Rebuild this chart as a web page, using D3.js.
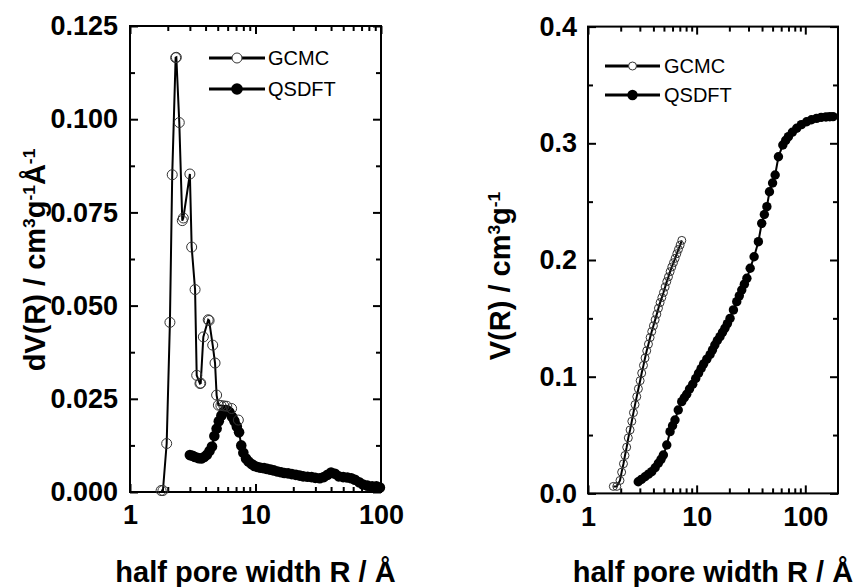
<!DOCTYPE html>
<html>
<head>
<meta charset="utf-8">
<script src="https://cdn.jsdelivr.net/npm/d3@7/dist/d3.min.js"></script>
<style>
  html, body { margin: 0; padding: 0; background: #fff; }
  svg { display: block; }
  text { font-family: Arial, "Liberation Sans", sans-serif; fill: #000; }
</style>
</head>
<body>
<svg id="chart" width="855" height="587"></svg>
<script>
// ---------- DATA ----------
// Left panel: pore size distribution dV(R)
const gcmcLeftR  = [1.77, 1.83, 1.96, 2.08, 2.17, 2.31, 2.34, 2.47, 2.61, 2.66, 3.00, 3.10, 3.30, 3.40, 3.61, 3.66, 3.84, 4.20, 4.27, 4.56, 4.76, 4.90, 5.06, 5.30, 5.60, 5.90, 6.45, 7.30];
const gcmcLeftDV = [0.0004, 0.0004, 0.0130, 0.0455, 0.0851, 0.1165, 0.1166, 0.0991, 0.0728, 0.0735, 0.0853, 0.0657, 0.0543, 0.0313, 0.0291, 0.0292, 0.0416, 0.0462, 0.0460, 0.0394, 0.0346, 0.0260, 0.0233, 0.0232, 0.0231, 0.0230, 0.0224, 0.0193];

const qsdftLeftR  = [3.00, 3.15, 3.30, 3.50, 3.70, 3.90, 4.10, 4.30, 4.50, 4.70, 4.90, 5.10, 5.35, 5.60, 5.90, 6.20, 6.50, 6.80, 7.10, 7.40, 7.70, 8.00, 8.40, 8.80, 9.30, 9.80, 10.4, 11.0, 11.7, 12.4, 13.2, 14.0, 15.0, 16.0, 17.0, 18.2, 19.5, 21.0, 22.5, 24.0, 26.0, 28.0, 30.0, 32.5, 35.0, 37.5, 40.0, 43.0, 46.0, 50.0, 54.0, 58.0, 62.0, 67.0, 72.0, 78.0, 85.0, 92.0, 98.0];
const qsdftLeftDV = [0.0099, 0.0097, 0.0094, 0.0091, 0.0090, 0.0094, 0.0100, 0.0110, 0.0122, 0.0150, 0.0170, 0.0190, 0.0205, 0.0216, 0.0220, 0.0214, 0.0202, 0.0190, 0.0176, 0.0160, 0.0125, 0.0105, 0.0090, 0.0082, 0.0075, 0.0070, 0.0067, 0.0065, 0.0064, 0.0062, 0.0060, 0.0058, 0.0055, 0.0053, 0.0051, 0.0050, 0.0048, 0.0046, 0.0044, 0.0042, 0.0041, 0.0040, 0.0038, 0.0037, 0.0040, 0.0046, 0.0052, 0.0049, 0.0042, 0.0040, 0.0039, 0.0037, 0.0033, 0.0026, 0.0020, 0.0017, 0.0015, 0.0015, 0.0012];

// Right panel: cumulative pore volume V(R)
const gcmcRightR = [1.71, 1.84, 1.97, 2.04, 2.12, 2.19, 2.27, 2.35, 2.44, 2.53, 2.62, 2.71, 2.81, 2.91, 3.02, 3.12, 3.24, 3.35, 3.47, 3.60, 3.73, 3.86, 4.00, 4.15, 4.30, 4.45, 4.61, 4.78, 4.95, 5.13, 5.31, 5.50, 5.70, 5.90, 6.12, 6.34, 6.57, 6.80, 7.05, 7.30];
const gcmcRightV = [0.0060, 0.0060, 0.0111, 0.0182, 0.0254, 0.0325, 0.0396, 0.0476, 0.0544, 0.0618, 0.0692, 0.0761, 0.0829, 0.0897, 0.0966, 0.1031, 0.1097, 0.1160, 0.1222, 0.1279, 0.1336, 0.1387, 0.1436, 0.1487, 0.1536, 0.1587, 0.1635, 0.1678, 0.1721, 0.1769, 0.1815, 0.1855, 0.1900, 0.1940, 0.1977, 0.2014, 0.2054, 0.2091, 0.2128, 0.2168];

const qsdftRightR = [2.90, 3.10, 3.35, 3.60, 3.86, 4.15, 4.44, 4.70, 4.94, 5.31, 5.69, 6.00, 6.32, 6.77, 7.29, 7.70, 8.10, 8.60, 9.20, 9.80, 10.4, 11.0, 11.6, 12.4, 13.3, 14.0, 14.7, 15.5, 16.4, 17.3, 18.2, 19.2, 20.3, 21.8, 23.4, 24.7, 26.0, 27.5, 29.0, 31.1, 33.8, 37.0, 39.7, 42.0, 44.3, 46.8, 50.0, 52.8, 56.6, 62.1, 66.0, 69.9, 76.0, 83.4, 92.0, 103, 114, 127, 140, 155, 168, 180];
const qsdftRightV = [0.0100, 0.0120, 0.0143, 0.0165, 0.0186, 0.0220, 0.0258, 0.0292, 0.0329, 0.0415, 0.0529, 0.0580, 0.0629, 0.0715, 0.0786, 0.0820, 0.0850, 0.0895, 0.0935, 0.0985, 0.1030, 0.1070, 0.1110, 0.1150, 0.1190, 0.1230, 0.1272, 0.1310, 0.1343, 0.1380, 0.1415, 0.1455, 0.1500, 0.1572, 0.1643, 0.1693, 0.1743, 0.1793, 0.1843, 0.1929, 0.2028, 0.2157, 0.2314, 0.2390, 0.2457, 0.2585, 0.2660, 0.2728, 0.2885, 0.2985, 0.3025, 0.3057, 0.3095, 0.3129, 0.3160, 0.3185, 0.3202, 0.3214, 0.3222, 0.3226, 0.3228, 0.3229];

// Tick values / labels
const xMajorTicks = [1, 10, 100];
const xMinorTicks = [2, 3, 4, 5, 6, 7, 8, 9, 20, 30, 40, 50, 60, 70, 80, 90];
const leftYMajor = [0, 0.025, 0.05, 0.075, 0.1, 0.125];
const leftYMinor = [0.0125, 0.0375, 0.0625, 0.0875, 0.1125];
const rightYMajor = [0, 0.1, 0.2, 0.3, 0.4];
const rightYMinor = [0.05, 0.15, 0.25, 0.35];
const seriesNames = ["GCMC", "QSDFT"];
const xTitle = "half pore width R / Å";

// ---------- DRAW ----------
const svg = d3.select("#chart");
const TICK_FS = 27, TITLE_FS = 29, LEG_FS = 20;

function panel(cfg) {
  const x = d3.scaleLog().domain(cfg.xDomain).range([cfg.x0, cfg.x1]);
  const y = d3.scaleLinear().domain(cfg.yDomain).range([cfg.y0, cfg.y1]);
  const g = svg.append("g");

  function styleAxis(sel, labels) {
    sel.select(".domain").remove();
    sel.selectAll(".tick line").attr("stroke", "#000").attr("stroke-width", 2);
    if (!labels) sel.selectAll(".tick text").remove();
    else sel.selectAll(".tick text")
      .attr("font-size", TICK_FS).attr("font-weight", "bold")
      .attr("font-family", "Arial, 'Liberation Sans', sans-serif").attr("fill", "#000");
  }
  const majX = xMajorTicks.filter(v => v >= cfg.xDomain[0] && v <= cfg.xDomain[1]);
  const minX = xMinorTicks.filter(v => v < cfg.xDomain[1]);
  // bottom
  g.append("g").attr("transform", `translate(0,${cfg.y0})`)
    .call(d3.axisBottom(x).tickValues(majX).tickFormat(d3.format("d")).tickSize(-8).tickPadding(13))
    .call(s => styleAxis(s, true));
  g.append("g").attr("transform", `translate(0,${cfg.y0})`)
    .call(d3.axisBottom(x).tickValues(minX).tickFormat("").tickSize(-5))
    .call(s => styleAxis(s, false));
  // top
  g.append("g").attr("transform", `translate(0,${cfg.y1})`)
    .call(d3.axisTop(x).tickValues(majX).tickSize(-8))
    .call(s => styleAxis(s, false));
  g.append("g").attr("transform", `translate(0,${cfg.y1})`)
    .call(d3.axisTop(x).tickValues(minX).tickSize(-5))
    .call(s => styleAxis(s, false));
  // left
  g.append("g").attr("transform", `translate(${cfg.x0},0)`)
    .call(d3.axisLeft(y).tickValues(cfg.yMajor).tickFormat(d3.format(cfg.yFmt)).tickSize(-8).tickPadding(cfg.yPad))
    .call(s => styleAxis(s, true));
  g.append("g").attr("transform", `translate(${cfg.x0},0)`)
    .call(d3.axisLeft(y).tickValues(cfg.yMinor).tickSize(-5))
    .call(s => styleAxis(s, false));
  // right
  g.append("g").attr("transform", `translate(${cfg.x1},0)`)
    .call(d3.axisRight(y).tickValues(cfg.yMajor).tickSize(-8))
    .call(s => styleAxis(s, false));
  g.append("g").attr("transform", `translate(${cfg.x1},0)`)
    .call(d3.axisRight(y).tickValues(cfg.yMinor).tickSize(-5))
    .call(s => styleAxis(s, false));

  // frame
  g.append("rect").attr("x", cfg.x0).attr("y", cfg.y1)
    .attr("width", cfg.x1 - cfg.x0).attr("height", cfg.y0 - cfg.y1)
    .attr("fill", "none").attr("stroke", "#000").attr("stroke-width", 2);

  const line = d3.line().x(d => x(d[0])).y(d => y(d[1]));
  const q = cfg.qR.map((r, i) => [r, cfg.qV[i]]);
  const gc = cfg.gR.map((r, i) => [r, cfg.gV[i]]);

  // QSDFT
  g.append("path").datum(q).attr("d", line).attr("fill", "none").attr("stroke", "#000").attr("stroke-width", 2);
  g.selectAll(".q").data(q).join("circle").attr("cx", d => x(d[0])).attr("cy", d => y(d[1]))
    .attr("r", cfg.qr).attr("fill", "#000");
  // GCMC
  g.append("path").datum(gc).attr("d", line).attr("fill", "none").attr("stroke", "#000").attr("stroke-width", 2);
  g.selectAll(".gc").data(gc).join("circle").attr("cx", d => x(d[0])).attr("cy", d => y(d[1]))
    .attr("r", cfg.gr).attr("fill", "none").attr("stroke", "#333").attr("stroke-width", 1);

  // legend
  const L = cfg.leg;
  seriesNames.forEach((name, i) => {
    const ly = L.y[i];
    g.append("line").attr("x1", L.x1).attr("x2", L.x2).attr("y1", ly).attr("y2", ly)
      .attr("stroke", "#000").attr("stroke-width", 3);
    const c = g.append("circle").attr("cx", (L.x1 + L.x2) / 2).attr("cy", ly);
    if (i === 0) c.attr("r", cfg.gr).attr("fill", "#fff").attr("stroke", "#333").attr("stroke-width", 1);
    else c.attr("r", cfg.qr + 0.5).attr("fill", "#000");
    g.append("text").attr("x", L.tx).attr("y", ly).attr("dy", "0.35em")
      .attr("font-size", LEG_FS).text(name);
  });

  // x title
  g.append("text").attr("x", (cfg.x0 + cfg.x1) / 2).attr("y", 582)
    .attr("text-anchor", "middle").attr("font-size", TITLE_FS).attr("font-weight", "bold").text(xTitle);

  // y title
  const yt = g.append("text").attr("transform", `translate(${cfg.ytx},${cfg.yty}) rotate(-90)`)
    .attr("text-anchor", "middle").attr("font-size", TITLE_FS).attr("font-weight", "bold");
  cfg.yTitle.forEach(p => {
    const t = yt.append("tspan").text(p.t);
    if (p.sup) t.attr("baseline-shift", "super").attr("font-size", TITLE_FS * 0.6);
  });
}

panel({
  xDomain: [1, 100], yDomain: [0, 0.125],
  x0: 130, x1: 381, y0: 492, y1: 26,
  yMajor: leftYMajor, yMinor: leftYMinor, yFmt: ".3f", yPad: 12,
  gR: gcmcLeftR, gV: gcmcLeftDV, qR: qsdftLeftR, qV: qsdftLeftDV,
  gr: 5, qr: 5.3,
  leg: { x1: 209, x2: 265, tx: 268, y: [58, 89] },
  ytx: 45, yty: 260,
  yTitle: [{t: "dV(R) / cm"}, {t: "3", sup: true}, {t: "g"}, {t: "-1", sup: true}, {t: "Å"}, {t: "-1", sup: true}]
});

panel({
  xDomain: [1, 200], yDomain: [0, 0.4],
  x0: 588, x1: 838, y0: 493.4, y1: 26.6,
  yMajor: rightYMajor, yMinor: rightYMinor, yFmt: ".1f", yPad: 11,
  gR: gcmcRightR, gV: gcmcRightV, qR: qsdftRightR, qV: qsdftRightV,
  gr: 4, qr: 4.7,
  leg: { x1: 605, x2: 660, tx: 664, y: [66, 95] },
  ytx: 510, yty: 276,
  yTitle: [{t: "V(R) / cm"}, {t: "3", sup: true}, {t: "g"}, {t: "-1", sup: true}]
});
</script>
</body>
</html>
